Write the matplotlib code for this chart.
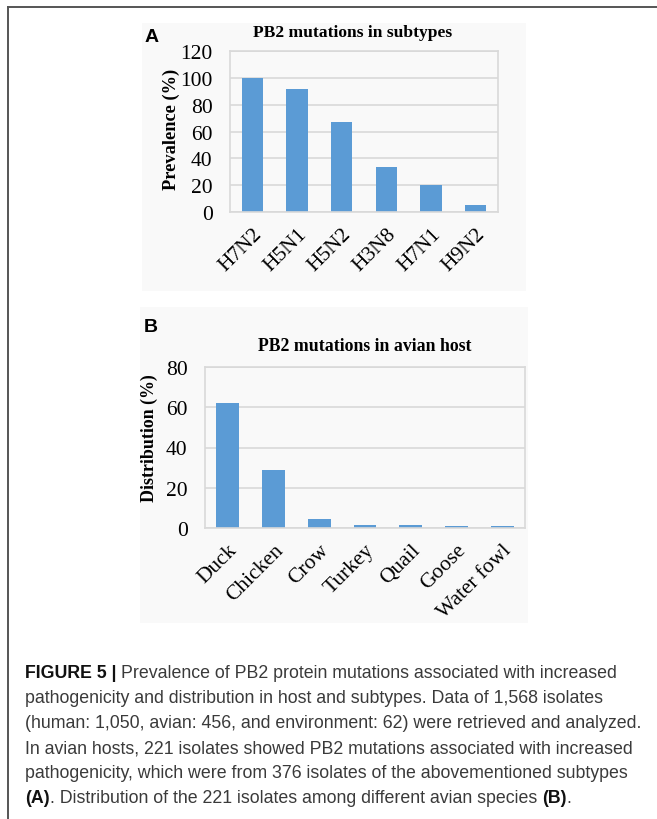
import matplotlib
matplotlib.use("Agg")
from matplotlib import pyplot as plt
from matplotlib.patches import Rectangle
from matplotlib.lines import Line2D

# Panel A: prevalence of PB2 mutations by subtype
subtypes = ['H7N2', 'H5N1', 'H5N2', 'H3N8', 'H7N1', 'H9N2']
prevalence = [100, 92, 67, 33.5, 20, 5.5]

# Panel B: distribution among avian hosts
hosts = ['Duck', 'Chicken', 'Crow', 'Turkey', 'Quail', 'Goose', 'Water fowl']
distribution = [62, 29, 4.5, 1.4, 1.4, 0.9, 0.9]

caption = [
    [('FIGURE 5 | ', 'bold'), ('Prevalence of PB2 protein mutations associated with increased', 'normal')],
    [('pathogenicity and distribution in host and subtypes. Data of 1,568 isolates', 'normal')],
    [('(human: 1,050, avian: 456, and environment: 62) were retrieved and analyzed.', 'normal')],
    [('In avian hosts, 221 isolates showed PB2 mutations associated with increased', 'normal')],
    [('pathogenicity, which were from 376 isolates of the abovementioned subtypes', 'normal')],
    [('(A)', 'bold'), ('. Distribution of the 221 isolates among different avian species ', 'normal'),
     ('(B)', 'bold'), ('.', 'normal')],
]

W, H = 657, 820
fig = plt.figure(figsize=(W / 100, H / 100), dpi=100)
fig.patch.set_facecolor('white')

def fx(px):
    return px / W

def fy(py):
    return 1 - py / H

# faint chart backgrounds (pasted Excel charts)
for x0, y0, x1, y1 in [(142, 24, 526, 292), (140, 308, 528, 624)]:
    fig.patches.append(Rectangle((fx(x0), fy(y1)), fx(x1 - x0), (y1 - y0) / H,
                                 transform=fig.transFigure, color='#f9f9f9',
                                 zorder=-5, lw=0))

# outer frame
fig.lines.append(Line2D([fx(8), fx(8)], [fy(8), fy(822)], transform=fig.transFigure,
                        color='#555555', lw=1.4))
fig.lines.append(Line2D([fx(8), fx(660)], [fy(8), fy(8)], transform=fig.transFigure,
                        color='#555555', lw=1.4))

serif = 'Liberation Serif'
bar_color = '#5b9bd5'
grid_color = '#d9d9d9'
tick_size = 15.5


def style_axes(ax, ymax, step):
    ax.set_facecolor('none')
    ax.set_ylim(0, ymax)
    ax.set_yticks(range(0, ymax + 1, step))
    ax.yaxis.grid(True, color=grid_color, lw=1.2)
    ax.set_axisbelow(True)
    for s in ax.spines.values():
        s.set_color(grid_color)
        s.set_linewidth(1.2)
    ax.tick_params(axis='y', length=0, labelsize=tick_size, pad=12.5)
    ax.tick_params(axis='x', length=0, labelsize=tick_size, pad=9)
    for lab in ax.get_yticklabels():
        lab.set_fontfamily(serif)


# Panel A
axA = fig.add_axes([fx(230), fy(213), fx(498 - 230), (213 - 52) / H])
axA.bar(range(len(subtypes)), prevalence, width=0.48, color=bar_color, zorder=2)
axA.set_xlim(-0.5, len(subtypes) - 0.5)
style_axes(axA, 120, 20)
axA.set_xticks(range(len(subtypes)))
axA.set_xticklabels(subtypes, rotation=45, ha='right', rotation_mode='anchor',
                    fontfamily=serif, fontsize=tick_size)
axA.set_ylabel('Prevalence (%)', fontfamily=serif, fontweight='bold', fontsize=13.2)
axA.yaxis.set_label_coords(-0.187, 0.52)
fig.text(fx(353), fy(33), 'PB2 mutations in subtypes', ha='center', va='center',
         fontfamily=serif, fontweight='bold', fontsize=12.6)
fig.text(fx(145), fy(37), 'A', ha='left', va='center', fontfamily='Liberation Sans',
         fontweight='bold', fontsize=14)

# Panel B
axB = fig.add_axes([fx(205), fy(529), fx(525 - 205), (529 - 368) / H])
axB.bar(range(len(hosts)), distribution, width=0.5, color=bar_color, zorder=2)
axB.set_xlim(-0.5, len(hosts) - 0.5)
style_axes(axB, 80, 20)
axB.set_xticks(range(len(hosts)))
axB.set_xticklabels(hosts, rotation=45, ha='right', rotation_mode='anchor',
                    fontfamily=serif, fontsize=tick_size)
axB.set_ylabel('Distribution (%)', fontfamily=serif, fontweight='bold', fontsize=12.9)
axB.yaxis.set_label_coords(-0.147, 0.565)
fig.text(fx(365), fy(347), 'PB2 mutations in avian host', ha='center', va='center',
         fontfamily=serif, fontweight='bold', fontsize=12.75)
fig.text(fx(144), fy(327), 'B', ha='left', va='center', fontfamily='Liberation Sans',
         fontweight='bold', fontsize=14)

# Caption, written piece by piece so bold parts sit inline
renderer = fig.canvas.get_renderer()
cap_font = 'Liberation Sans'
cap_size = 12
target = 644 - 25
probe = fig.text(0, 0, caption[2][0][0], fontfamily=cap_font, fontsize=cap_size)
w = probe.get_window_extent(renderer).width
probe.remove()
cap_size = cap_size * target / w

y0, dy = 672, 24.9
for i, parts in enumerate(caption):
    x = 25
    for txt, weight in parts:
        t = fig.text(fx(x), fy(y0 + i * dy), txt, ha='left', va='center_baseline',
                     fontfamily=cap_font, fontsize=cap_size, fontweight=weight,
                     color='#111111' if weight == 'bold' else '#3a3a3a')
        x += t.get_window_extent(renderer).width

fig.savefig('out.png', dpi=100)
